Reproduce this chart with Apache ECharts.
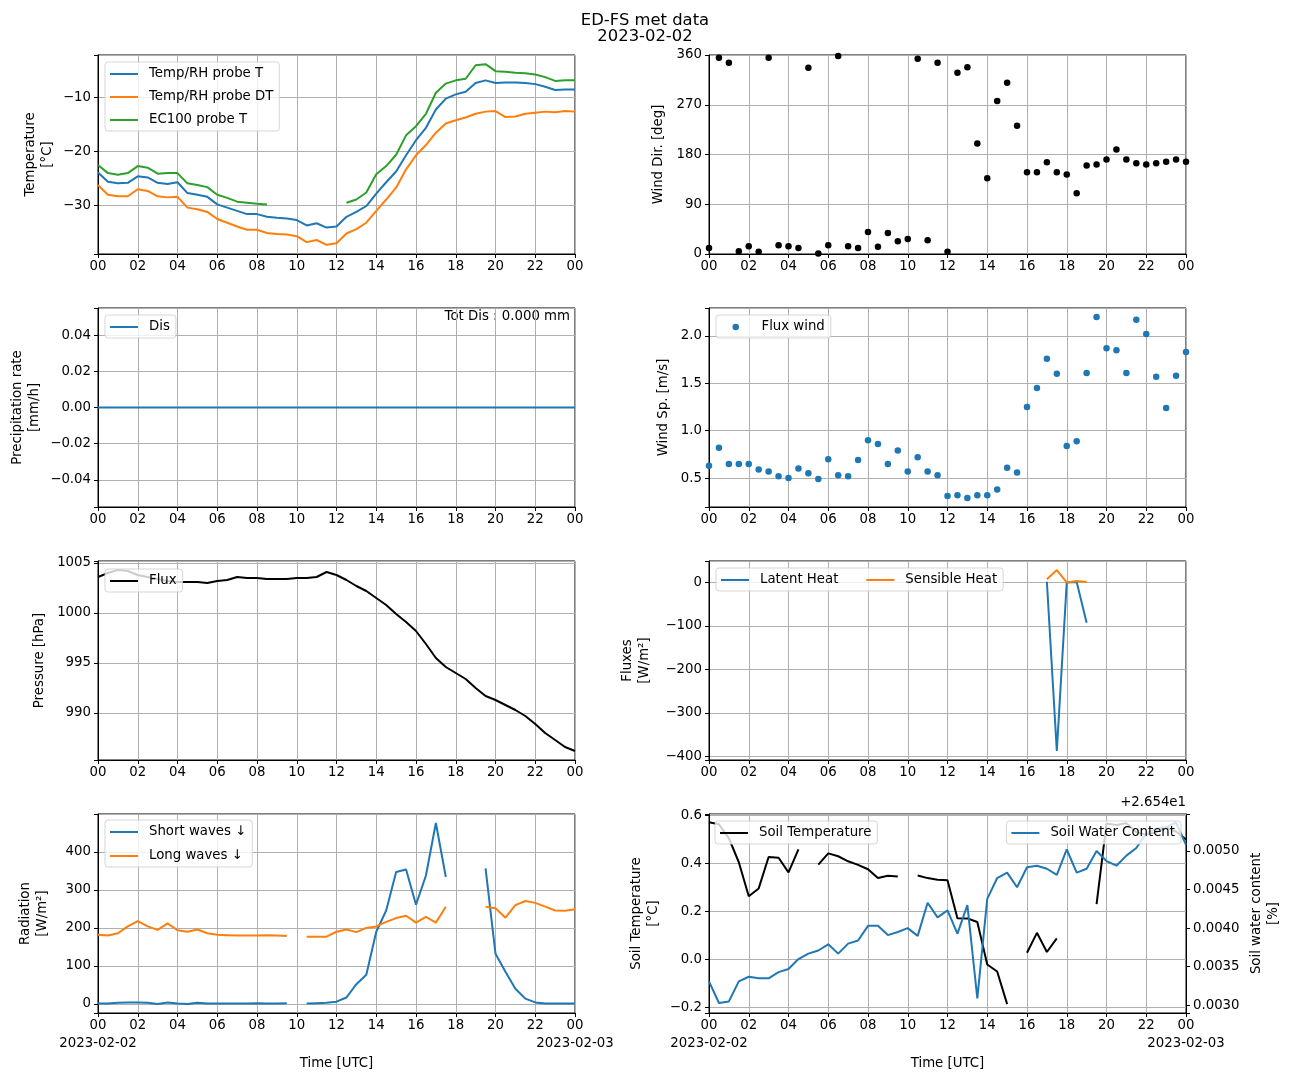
<!DOCTYPE html>
<html>
<head>
<meta charset="utf-8">
<title>ED-FS met data</title>
<script src="https://cdn.jsdelivr.net/npm/echarts@6/dist/echarts.min.js"></script>
<style>
  html, body { margin: 0; padding: 0; background: #fff; }
  #chart { width: 1290px; height: 1082px; }
</style>
</head>
<body>
<div id="chart"></div>
<script>
// half-hourly samples, hours after 2023-02-02 00:00 UTC
const hours = [0, 0.5, 1, 1.5, 2, 2.5, 3, 3.5, 4, 4.5, 5, 5.5, 6, 6.5, 7, 7.5, 8, 8.5, 9, 9.5,
  10, 10.5, 11, 11.5, 12, 12.5, 13, 13.5, 14, 14.5, 15, 15.5, 16, 16.5, 17, 17.5, 18, 18.5, 19, 19.5,
  20, 20.5, 21, 21.5, 22, 22.5, 23, 23.5, 24];
const dayLabels = ['2023-02-02', '2023-02-03'];

// temperature [°C]
const tempT = [-23.9, -25.6, -25.9, -25.8, -24.6, -24.8, -25.8, -26.0, -25.7, -27.7, -28.0, -28.4, -29.8, -30.4, -31.0, -31.6, -31.6, -32.1, -32.3, -32.4,
  -32.7, -33.7, -33.3, -34.1, -33.9, -32.1, -31.2, -30.1, -27.8, -25.7, -23.7, -20.7, -17.9, -15.6, -12.2, -10.2, -9.4, -8.9, -7.3, -6.8,
  -7.3, -7.2, -7.2, -7.3, -7.5, -8.0, -8.6, -8.5, -8.5];
const tempDT = [-26.2, -28.0, -28.3, -28.3, -27.0, -27.3, -28.3, -28.5, -28.4, -30.4, -30.7, -31.2, -32.5, -33.2, -33.9, -34.5, -34.5, -35.1, -35.3, -35.4,
  -35.7, -36.8, -36.4, -37.3, -37.0, -35.2, -34.4, -33.2, -31.0, -28.9, -26.7, -23.3, -20.7, -18.8, -16.5, -14.8, -14.2, -13.7, -13.0, -12.6,
  -12.5, -13.6, -13.5, -13.0, -12.8, -12.6, -12.7, -12.5, -12.6];
const ec100T = [-22.5, -24.0, -24.3, -24.0, -22.7, -23.0, -24.1, -24.0, -24.0, -25.9, -26.2, -26.6, -28.0, -28.6, -29.3, -29.5, -29.7, -29.8, null, null,
  null, null, null, null, null, -29.5, -28.9, -27.6, -24.2, -22.7, -20.6, -17.0, -15.3, -13.0, -9.1, -7.4, -6.8, -6.5, -4.0, -3.8,
  -5.1, -5.2, -5.4, -5.5, -5.7, -6.2, -6.9, -6.8, -6.8];

// wind direction [deg]
const windDir = [11, 355, 346, 5, 14, 4, 355, 16, 14, 11, 337, 1, 16, 358, 14, 11, 40, 13, 38, 23,
  27, 353, 25, 346, 4, 328, 338, 200, 137, 277, 310, 232, 148, 148, 166, 148, 144, 110, 160, 162,
  171, 189, 171, 164, 162, 164, 167, 171, 167];

// precipitation rate [mm/h]
const precipDis = [0, 0, 0, 0, 0, 0, 0, 0, 0, 0, 0, 0, 0, 0, 0, 0, 0, 0, 0, 0,
  0, 0, 0, 0, 0, 0, 0, 0, 0, 0, 0, 0, 0, 0, 0, 0, 0, 0, 0, 0,
  0, 0, 0, 0, 0, 0, 0, 0, 0];

// wind speed [m/s]
const windSpeed = [0.63, 0.82, 0.65, 0.65, 0.65, 0.59, 0.57, 0.52, 0.50, 0.60, 0.55, 0.49, 0.70, 0.53, 0.52, 0.69, 0.90, 0.86, 0.65, 0.79,
  0.57, 0.72, 0.57, 0.53, 0.31, 0.32, 0.29, 0.32, 0.32, 0.38, 0.61, 0.56, 1.25, 1.45, 1.76, 1.60, 0.84, 0.89, 1.61, 2.20,
  1.87, 1.85, 1.61, 2.17, 2.02, 1.57, 1.24, 1.58, 1.83];

// pressure [hPa]
const pressure = [1003.6, 1004.0, 1004.3, 1004.2, 1003.8, 1003.6, 1003.4, 1003.2, 1003.1, 1003.1, 1003.1, 1003.0, 1003.2, 1003.3, 1003.6, 1003.5, 1003.5, 1003.4, 1003.4, 1003.4,
  1003.5, 1003.5, 1003.6, 1004.1, 1003.8, 1003.3, 1002.7, 1002.2, 1001.5, 1000.8, 999.9, 999.1, 998.2, 996.9, 995.5, 994.6, 994.0, 993.4, 992.5, 991.7,
  991.3, 990.8, 990.3, 989.7, 988.9, 988.0, 987.3, 986.6, 986.2];

// turbulent fluxes [W/m2]
const latentHeat = [null, null, null, null, null, null, null, null, null, null, null, null, null, null, null, null, null, null, null, null,
  null, null, null, null, null, null, null, null, null, null, null, null, null, null, 1.5, -387.7, 0, 0.8, -92.7, null,
  null, null, null, null, null, null, null, null, null];
const sensibleHeat = [null, null, null, null, null, null, null, null, null, null, null, null, null, null, null, null, null, null, null, null,
  null, null, null, null, null, null, null, null, null, null, null, null, null, null, 7, 28.4, 0, 3, 1, null,
  null, null, null, null, null, null, null, null, null];

// radiation [W/m2]
const shortWave = [1, 1, 3, 4, 4, 3, 0, 4, 1, 0, 3, 1, 1, 1, 1, 1, 2, 1, 1, 2,
  null, 1, 2, 3, 6, 17, 52, 77, 190, 246, 347, 354, 261, 338, 476, 334, null, null, null, 357,
  132, 85, 40, 14, 4, 1, 1, 1, 1];
const longWave = [182, 180, 186, 204, 218, 204, 195, 212, 194, 190, 196, 186, 182, 181, 180, 180, 180, 181, 180, 179,
  null, 177, 177, 177, 190, 196, 189, 200, 204, 216, 226, 232, 214, 229, 214, 256, null, null, null, 256,
  252, 227, 260, 271, 266, 256, 246, 245, 249];

// soil temperature [°C] and soil water content [%] (shown relative to offset 26.54)
const soilTemp = [0.572, 0.563, 0.505, 0.405, 0.263, 0.296, 0.427, 0.424, 0.363, 0.459, null, 0.395, 0.442, 0.430, 0.409, 0.394, 0.376, 0.339, 0.349, 0.346,
  null, 0.350, 0.339, 0.332, 0.330, 0.172, 0.171, 0.156, -0.021, -0.050, -0.186, null, 0.028, 0.111, 0.031, 0.088, null, null, null, 0.231,
  0.566, 0.56, 0.568, 0.53, 0.52, 0.53, 0.55, 0.533, 0.50];
const soilWaterOffset = 26.54;
const soilWater = [0.00331, 0.00303, 0.00305, 0.00331, 0.00337, 0.00335, 0.00335, 0.00343, 0.00347, 0.00360, 0.00367, 0.00371, 0.00379, 0.00367, 0.00380, 0.00384, 0.00403, 0.00403, 0.00391, 0.00395,
  0.00400, 0.00390, 0.00433, 0.00414, 0.00423, 0.00393, 0.00430, 0.00309, 0.00438, 0.00465, 0.00472, 0.00453, 0.00479, 0.00481, 0.00477, 0.00469, 0.00502, 0.00472, 0.00477, 0.00500,
  0.00487, 0.00481, 0.00494, 0.00504, 0.00523, 0.00529, 0.00531, 0.00537, 0.00508];

const FONT = 'DejaVu Sans';
const FS = 13.3;
const BLUE = '#1f77b4', ORANGE = '#ff7f0e', GREEN = '#2ca02c';

// panel layout (px): two columns, four rows
const colLeft = [98, 709];
const rowTop = [55, 308, 561, 814];
const W = 477, H = 199;
const gridPos = [[0, 0], [1, 0], [0, 1], [1, 1], [0, 2], [1, 2], [0, 3], [1, 3]];

const pairs = v => hours.map((h, i) => [h, v[i] == null ? '-' : v[i]]);
const minus = s => String(s).replace('-', '\u2212');
// only label "round" ticks (the extent ticks stay blank like in matplotlib)
const tickFmt = (step, digits) => v => {
  const k = v / step;
  if (Math.abs(k - Math.round(k)) > 1e-6) return '';
  return minus(v.toFixed(digits));
};

const axisLine = { show: true, onZero: false, lineStyle: { color: '#000', width: 1 } };
const axisTick = { show: true, length: 4, lineStyle: { color: '#000', width: 1 } };
const splitLine = { show: true, lineStyle: { color: '#b0b0b0', width: 1 } };
const txt = { fontFamily: FONT, fontSize: FS, color: '#000' };

function xAx(grid, bottom) {
  return {
    type: 'value', gridIndex: grid, min: 0, max: 24, interval: 2,
    axisLine, axisTick, splitLine,
    axisLabel: Object.assign({}, txt, {
      margin: 6, showMinLabel: true, showMaxLabel: true,
      formatter: v => String(v % 24).padStart(2, '0')
    }),
    name: bottom ? 'Time [UTC]' : '', nameLocation: 'middle', nameGap: 42,
    nameTextStyle: Object.assign({}, txt, { lineHeight: 17 })
  };
}

// second label row with the dates under the bottom panels
function dateAx(grid) {
  return {
    type: 'value', gridIndex: grid, min: 0, max: 24, interval: 2, position: 'bottom', offset: 0,
    axisLine: { show: false, onZero: false }, axisTick: { show: false }, splitLine: { show: false },
    axisLabel: Object.assign({}, txt, {
      margin: 24, showMinLabel: true, showMaxLabel: true,
      formatter: v => (v === 0 ? dayLabels[0] : v === 24 ? dayLabels[1] : '')
    })
  };
}

function yAx(grid, min, max, split, step, digits, name, gap, extra) {
  return Object.assign({
    type: 'value', gridIndex: grid, min, max, splitNumber: split,
    name, nameLocation: 'middle', nameRotate: 90, nameGap: gap,
    nameTextStyle: Object.assign({}, txt, { lineHeight: 17 }),
    axisLine, axisTick, splitLine,
    axisLabel: Object.assign({}, txt, { margin: 7, formatter: tickFmt(step, digits) })
  }, extra || {});
}

function line(name, data, color, grid, yIdx) {
  return {
    type: 'line', name, data: pairs(data), xAxisIndex: grid, yAxisIndex: yIdx == null ? grid : yIdx,
    symbol: 'none', showSymbol: false, connectNulls: false,
    lineStyle: { color, width: 2 }, itemStyle: { color }, animation: false
  };
}

function dots(name, data, color, grid) {
  return {
    type: 'scatter', name, data: pairs(data), xAxisIndex: grid, yAxisIndex: grid,
    symbol: 'circle', symbolSize: 6.5, itemStyle: { color, opacity: 1 }, animation: false
  };
}

const legendText = pad => Object.assign({}, txt, { lineHeight: 14, padding: [0, 0, 0, pad] });

function legend(names, pos, extra) {
  return Object.assign({
    data: names, orient: 'vertical',
    icon: 'rect', itemWidth: 28, itemHeight: 2, itemGap: 9,
    padding: [5, 6, 4, 5],
    backgroundColor: 'rgba(255,255,255,0.8)', borderColor: 'rgba(204,204,204,0.8)',
    borderWidth: 1, borderRadius: 3, selectedMode: false,
    textStyle: legendText(6)
  }, pos, extra || {});
}

const totDis = precipDis.reduce((a, b) => a + b * 0.5, 0);

const option = {
  backgroundColor: '#fff',
  animation: false,
  title: {
    text: 'ED-FS met data\n2023-02-02', left: 'center', top: 8,
    textStyle: { fontFamily: FONT, fontSize: 16.4, fontWeight: 'normal', color: '#000', lineHeight: 16 }
  },
  grid: gridPos.map(([c, r]) => ({
    left: colLeft[c], top: rowTop[r], width: W, height: H,
    show: true, borderColor: '#000', borderWidth: 1, backgroundColor: 'transparent'
  })),
  xAxis: gridPos.map((p, i) => xAx(i, i >= 6)).concat([dateAx(6), dateAx(7)]),
  yAxis: [
    yAx(0, -39.0, -2.1, 4, 10, 0, 'Temperature\n[°C]', 42),
    yAx(1, 0, 360, 4, 90, 0, 'Wind Dir. [deg]', 42, { interval: 90 }),
    yAx(2, -0.055, 0.055, 5, 0.02, 2, 'Precipitation rate\n[mm/h]', 55),
    yAx(3, 0.195, 2.295, 4, 0.5, 1, 'Wind Sp. [m/s]', 37),
    yAx(4, 985.3, 1005.2, 4, 5, 0, 'Pressure [hPa]', 50),
    yAx(5, -408.5, 49.2, 5, 100, 0, 'Fluxes\n[W/m²]', 56),
    yAx(6, -23.8, 499.8, 5, 100, 0, 'Radiation\n[W/m²]', 47),
    yAx(7, -0.223, 0.606, 4, 0.2, 1, 'Soil Temperature\n[°C]', 47),
    yAx(7, 0.0029, 0.00548, 5, 0.0005, 4, 'Soil water content\n[%]', 62,
      { position: 'right', splitLine: { show: false } })
  ],
  legend: [
    legend(['Temp/RH probe T', 'Temp/RH probe DT', 'EC100 probe T'], { left: 105, top: 62 }),
    legend(['Dis'], { left: 105, top: 315 }),
    legend(['Flux wind'], { left: 716, top: 315 },
      { icon: 'circle', itemWidth: 6.5, itemHeight: 6.5, padding: [5, 6, 4, 16.5], textStyle: legendText(17.5) }),
    legend(['Flux'], { left: 105, top: 569 }),
    legend(['Latent Heat', 'Sensible Heat'], { left: 716, top: 568 }, { orient: 'horizontal', itemGap: 28 }),
    legend(['Short waves \u2193', 'Long waves \u2193'], { left: 105, top: 820 }, { itemGap: 10 }),
    legend(['Soil Temperature'], { left: 715, top: 821 }),
    legend(['Soil Water Content'], { right: 109, top: 821 })
  ],
  graphic: [
    {
      type: 'text', x: 570, y: 317,
      style: { text: 'Tot Dis : ' + totDis.toFixed(3) + ' mm', font: FS + 'px "DejaVu Sans"', fill: '#000',
        align: 'right', verticalAlign: 'middle', textAlign: 'right', textVerticalAlign: 'middle' }
    },
    {
      type: 'text', x: 1186, y: 803,
      style: { text: '+2.654e1', font: FS + 'px "DejaVu Sans"', fill: '#000',
        align: 'right', verticalAlign: 'middle', textAlign: 'right', textVerticalAlign: 'middle' }
    }
  ],
  series: [
    line('Temp/RH probe T', tempT, BLUE, 0),
    line('Temp/RH probe DT', tempDT, ORANGE, 0),
    line('EC100 probe T', ec100T, GREEN, 0),
    dots('Wind Dir.', windDir, '#000', 1),
    line('Dis', precipDis, BLUE, 2),
    dots('Flux wind', windSpeed, BLUE, 3),
    line('Flux', pressure, '#000', 4),
    line('Latent Heat', latentHeat, BLUE, 5),
    line('Sensible Heat', sensibleHeat, ORANGE, 5),
    line('Short waves \u2193', shortWave, BLUE, 6),
    line('Long waves \u2193', longWave, ORANGE, 6),
    line('Soil Temperature', soilTemp, '#000', 7),
    line('Soil Water Content', soilWater, BLUE, 7, 8)
  ]
};

const chart = echarts.init(document.getElementById('chart'), null, { renderer: 'canvas' });
chart.setOption(option);
window.addEventListener('resize', () => chart.resize());
</script>
</body>
</html>
